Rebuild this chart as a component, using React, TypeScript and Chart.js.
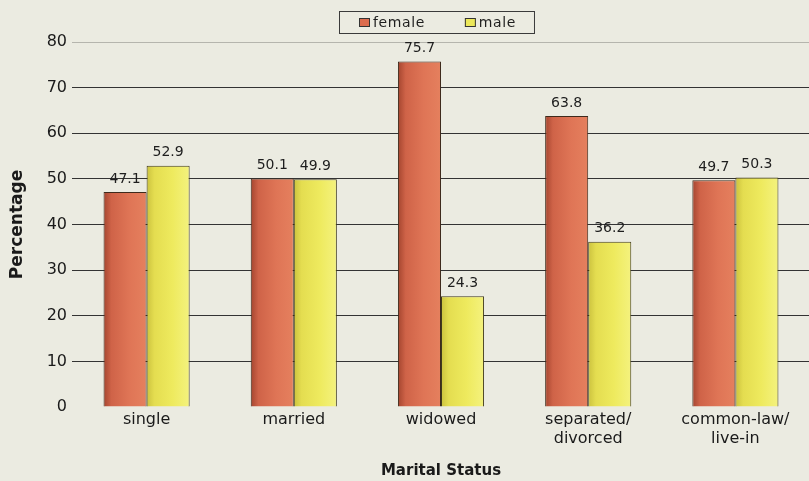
import React, { useEffect, useRef } from "react";
import { Chart, registerables } from "chart.js";

Chart.register(...registerables);

// ---- data ----
const categories: string[][] = [
  ["single"],
  ["married"],
  ["widowed"],
  ["separated/", "divorced"],
  ["common-law/", "live-in"],
];
const seriesNames = ["female", "male"];
const femaleValues = [47.1, 50.1, 75.7, 63.8, 49.7];
const maleValues = [52.9, 49.9, 24.3, 36.2, 50.3];
const yMin = 0;
const yMax = 80;
const yStep = 10;
const xTitle = "Marital Status";
const yTitle = "Percentage";

// ---- styles ----
const FONT = '"DejaVu Sans", Verdana, sans-serif';
const BG = "#ebebe1";
const CAT_PCT = 0.585;
const femaleStops: [number, string][] = [
  [0, "#a4452f"],
  [0.18, "#cf6348"],
  [0.6, "#df7556"],
  [1, "#e5805e"],
];
const maleStops: [number, string][] = [
  [0, "#cbc23e"],
  [0.18, "#e4dd50"],
  [0.6, "#eeea5e"],
  [1, "#f4f27e"],
];
const swatchColors = ["#dc6c4e", "#ece85a"];

function barFill(stops: [number, string][], side: number) {
  return (c: any) => {
    const chart = c.chart;
    const xs = chart.scales ? chart.scales.x : null;
    if (!xs || c.dataIndex === undefined || c.dataIndex === null || !xs.width) {
      return stops[2][1];
    }
    const center = xs.getPixelForValue(c.dataIndex);
    const w = ((xs.width / categories.length) * CAT_PCT) / 2;
    const x0 = side === 0 ? center - w : center;
    const g = chart.ctx.createLinearGradient(x0, 0, x0 + w, 0);
    stops.forEach(([o, col]) => g.addColorStop(o, col));
    return g;
  };
}

const valueLabels = {
  id: "valueLabels",
  afterDatasetsDraw(chart: any) {
    const ctx = chart.ctx;
    ctx.save();
    ctx.font = `14px ${FONT}`;
    ctx.fillStyle = "#1e1e1e";
    ctx.textAlign = "center";
    ctx.textBaseline = "middle";
    chart.data.datasets.forEach((ds: any, i: number) => {
      const meta = chart.getDatasetMeta(i);
      meta.data.forEach((el: any, j: number) => {
        ctx.fillText(Number(ds.data[j]).toFixed(1), el.x, el.y - 13);
      });
    });
    ctx.restore();
  },
};

const boxedLegend = {
  id: "boxedLegend",
  afterDraw(chart: any) {
    const ctx = chart.ctx;
    const area = chart.chartArea;
    ctx.save();
    ctx.font = `14px ${FONT}`;
    try {
      (ctx as any).letterSpacing = "0.6px";
    } catch (e) {}
    const sw = 11;
    const gap = 3;
    const between = 40;
    const padL = 20;
    const padR = 18;
    const items = chart.data.datasets.map((ds: any, i: number) => ({
      text: ds.label,
      color: swatchColors[i],
      w: ctx.measureText(ds.label).width,
    }));
    let total = padL + padR;
    items.forEach((it: any, i: number) => {
      total += sw + gap + it.w + (i > 0 ? between : 0);
    });
    const cx = (area.left + area.right) / 2 - 5;
    const left = Math.round(cx - total / 2);
    const top = 11;
    const h = 22;
    ctx.strokeStyle = "#3a3a3a";
    ctx.lineWidth = 1;
    ctx.strokeRect(left + 0.5, top + 0.5, total, h);
    let x = left + padL;
    const midY = top + h / 2 + 1;
    items.forEach((it: any, i: number) => {
      if (i > 0) x += between;
      ctx.fillStyle = it.color;
      ctx.fillRect(x, midY - 5, sw, 9);
      ctx.strokeStyle = "#333";
      ctx.strokeRect(x + 0.5, midY - 4.5, sw - 1, 8);
      x += sw + gap;
      ctx.fillStyle = "#1e1e1e";
      ctx.textAlign = "left";
      ctx.textBaseline = "middle";
      ctx.fillText(it.text, x, midY);
      x += it.w;
    });
    ctx.restore();
  },
};

export default function App() {
  const ref = useRef<HTMLCanvasElement>(null);
  useEffect(() => {
    if (!ref.current) return;
    const chart = new Chart(ref.current, {
      type: "bar",
      data: {
        labels: categories as any,
        datasets: [
          {
            label: seriesNames[0],
            data: femaleValues,
            backgroundColor: barFill(femaleStops, 0) as any,
            borderColor: "#3e2a1c",
            borderWidth: 1,
            categoryPercentage: CAT_PCT,
            barPercentage: 1,
          },
          {
            label: seriesNames[1],
            data: maleValues,
            backgroundColor: barFill(maleStops, 1) as any,
            borderColor: "#403a1c",
            borderWidth: 1,
            categoryPercentage: CAT_PCT,
            barPercentage: 1,
          },
        ],
      },
      options: {
        responsive: false,
        animation: false,
        devicePixelRatio: 1,
        layout: { padding: { top: 42, left: 0, right: 0, bottom: 0 } },
        plugins: {
          legend: { display: false },
          tooltip: { enabled: false },
        },
        scales: {
          x: {
            grid: { display: false, drawTicks: false },
            border: { display: false },
            ticks: {
              font: { family: FONT, size: 16 },
              color: "#1a1a1a",
              padding: 3,
              maxRotation: 0,
              autoSkip: false,
            },
            title: {
              display: true,
              text: xTitle,
              font: { family: FONT, size: 15, weight: "bold" },
              color: "#1a1a1a",
              padding: { top: 0, bottom: 1 },
            },
            afterFit: (s: any) => {
              s.height = 74;
              s.paddingLeft = 0;
              s.paddingRight = 0;
            },
          },
          y: {
            min: yMin,
            max: yMax,
            ticks: {
              stepSize: yStep,
              font: { family: FONT, size: 16 },
              color: "#1a1a1a",
              padding: 5,
            },
            grid: {
              color: (c: any) => {
                const v = c.tick ? c.tick.value : null;
                if (v === yMin) return "rgba(0,0,0,0)";
                if (v === yMax) return "#b5b5ad";
                return "#333333";
              },
              lineWidth: 1,
              drawTicks: true,
              tickLength: 1,
            },
            border: { display: false },
            title: {
              display: true,
              text: yTitle,
              font: { family: FONT, size: 17, weight: "bold" },
              color: "#1a1a1a",
              padding: { top: 7, bottom: 0 },
            },
            afterFit: (s: any) => {
              s.width = 73;
              s.paddingTop = 0;
              s.paddingBottom = 0;
            },
          },
        },
      },
      plugins: [valueLabels, boxedLegend],
    });
    return () => chart.destroy();
  }, []);
  return (
    <canvas
      ref={ref}
      width={809}
      height={481}
      style={{ position: "fixed", left: 0, top: 0, width: 809, height: 481, background: BG, display: "block" }}
    />
  );
}
